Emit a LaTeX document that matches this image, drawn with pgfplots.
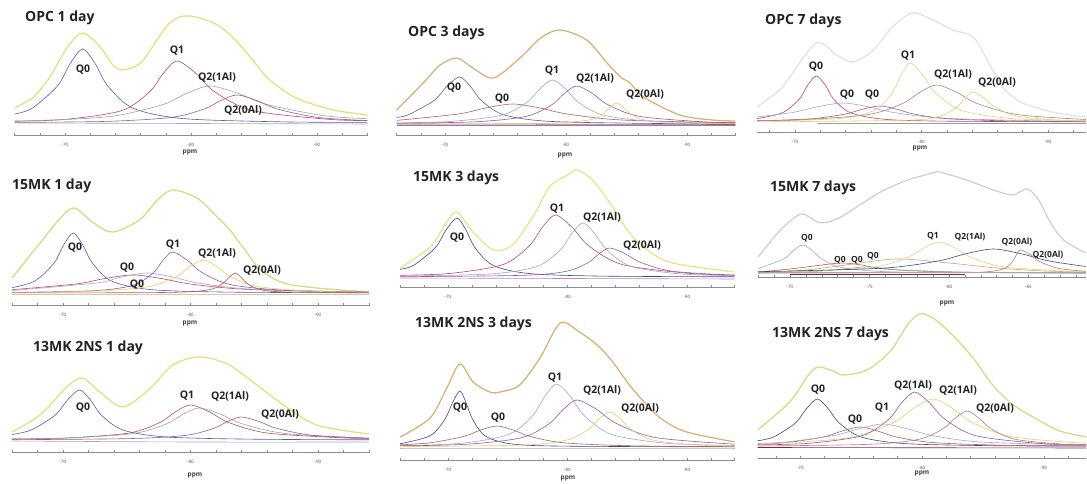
\documentclass[border=0pt]{standalone}
\usepackage{pgfplots}
\pgfplotsset{compat=1.18}
\usepackage{fontspec}
\setmainfont{Open Sans}
\definecolor{envY}{HTML}{E6E07C}
\definecolor{envTan}{HTML}{D8B27A}
\definecolor{envLG}{HTML}{E2E2E8}
\definecolor{envYG}{HTML}{D4DC84}
\definecolor{envY2}{HTML}{E8E48C}
\definecolor{envG}{HTML}{D0D0DA}
\definecolor{cBlue}{HTML}{5A5AA8}
\definecolor{cDBlue}{HTML}{40468A}
\definecolor{cRed}{HTML}{C04860}
\definecolor{cBrown}{HTML}{B06060}
\definecolor{cGreen}{HTML}{8CB094}
\definecolor{cPurp}{HTML}{9A5A9A}
\definecolor{cLB}{HTML}{A0A8CC}
\definecolor{cYel}{HTML}{E0D068}
\definecolor{cYG}{HTML}{D8D878}
\definecolor{cMauve}{HTML}{B08080}
\definecolor{cOr}{HTML}{D8A070}
\definecolor{cGray}{HTML}{A8A8B8}
\definecolor{cDRed}{HTML}{902040}
\definecolor{txt}{HTML}{222222}
\pgfplotsset{
  panel/.style={
    scale only axis, anchor=south west, clip=false,
    axis x line=bottom, axis y line=none,
    x axis line style={-, draw=black!45, line width=0.5pt},
    x dir=reverse, ymin=0, ymax=150, height=150pt,
    xtick={-70,-80,-90}, xticklabels={-70,-80,-90},
    minor xtick={-94,-92,...,-66},
    xtick align=center,
    major tick length=3pt, minor tick length=3pt,
    tick style={black!45, line width=0.4pt},
    xticklabel style={font=\fontsize{4.5}{5}\selectfont, text=black!70, yshift=-3pt},
    every axis plot/.append style={smooth, no markers, line width=0.6pt},
  },
  env/.style={line width=1.3pt},
}
\tikzset{
  ttl/.style={font=\fontsize{14}{16}\selectfont\bfseries, text=txt, anchor=base west, inner sep=0pt},
  lbl/.style={font=\fontsize{10.5}{12}\selectfont\bfseries, text=txt, inner sep=0pt},
  lbls/.style={font=\fontsize{8.5}{10}\selectfont\bfseries, text=txt, inner sep=0pt},
  ppm/.style={font=\fontsize{6.5}{7}\selectfont\bfseries, text=black!75, inner sep=0pt},
}
\begin{document}
\begin{tikzpicture}[x=1pt,y=1pt]
\path[use as bounding box] (0,0) rectangle (1087,484);

% ---------------- A: OPC 1 day
\begin{axis}[panel, at={(14.6pt,349pt)}, width=352.8pt, xmin=-94, xmax=-66]
\addplot[envY, env] coordinates {(-66,27)(-67.5,38)(-68.8,58)(-70.2,88)(-71.4,102)(-72.8,88)(-73.8,70)(-74.6,65)(-76,72)(-77.3,95)(-78.3,112)(-79.4,119)(-80.7,117)(-82.1,110)(-83.3,98)(-84.7,78)(-86,58)(-87.3,45)(-88.7,35)(-91.3,25)(-94,20)};
\addplot[cBlue] coordinates {(-66,21)(-67.4,26.8)(-69.4,49)(-70.4,71.2)(-71.4,86)(-72.4,71.2)(-73.4,49)(-75.4,26.8)(-79.4,16.4)(-87.4,13.1)(-94,12.6)};
\addplot[cRed] coordinates {(-66,13.7)(-70.1,15.7)(-74.5,24.4)(-76.7,43)(-77.8,61.6)(-78.9,74)(-80.4,61.6)(-81.9,43)(-84.9,24.4)(-90.9,15.7)(-94,14.4)};
\addplot[cGreen] coordinates {(-66,14)(-70.4,15.7)(-74.1,19.4)(-77.8,30.5)(-79.65,41.6)(-81.5,49)(-83.75,41.6)(-86,30.5)(-90.5,19.4)(-94,16.3)};
\addplot[cPurp] coordinates {(-66,12.6)(-73.25,13.6)(-78.45,17.6)(-81.05,26)(-82.35,34.4)(-83.65,40)(-85.25,34.4)(-86.85,26)(-90.05,17.6)(-94,14.4)};
\addplot[cGray] coordinates {(-66,12)(-94,11)};
\end{axis}

% ---------------- B: OPC 3 days
\begin{axis}[panel, at={(396.6pt,349pt)}, width=338.8pt, xmin=-94, xmax=-66]
\addplot[envTan, env] coordinates {(-66,25)(-68.2,52)(-69.6,70)(-71.0,77)(-72.3,67)(-74.0,57)(-76.2,77)(-77.9,97)(-79.5,105)(-81.7,95)(-83.4,72)(-84.5,58)(-85.3,52)(-86.4,38)(-89.4,20)(-92.1,15)(-94,14)};
\addplot[cBlue] coordinates {(-66,17.6)(-67.0,20.4)(-69.1,34.5)(-70.15,48.6)(-71.2,58)(-72.1,48.6)(-73.0,34.5)(-74.8,20.4)(-78.4,13.8)(-86,11.7)(-94,11)};
\addplot[cBrown] coordinates {(-66,14.6)(-71.1,21)(-73.35,27)(-75.6,31)(-77.85,27)(-80.1,21)(-84.6,15)(-94,12.2)};
\addplot[cLB] coordinates {(-66,12.1)(-70.5,13.6)(-74.7,19.8)(-76.8,33)(-77.85,46.2)(-78.9,55)(-79.95,46.2)(-81.0,33)(-83.1,19.8)(-87.3,13.6)(-94,11.8)};
\addplot[cPurp] coordinates {(-66,11.8)(-72.5,13.2)(-76.7,18.6)(-78.8,30)(-79.85,41.4)(-80.9,49)(-82.2,41.4)(-83.5,30)(-86.1,18.6)(-91.3,13.2)(-94,12.4)};
\addplot[cYel] coordinates {(-66,11)(-78,11.6)(-82.0,15.2)(-83.1,21.5)(-83.65,27.8)(-84.2,32)(-84.75,27.8)(-85.3,21.5)(-86.4,15.2)(-88.6,12.2)(-94,11.2)};
\addplot[cDBlue] coordinates {(-66,10)(-94,10)};
\addplot[cRed] coordinates {(-66,11)(-94,10.5)};
\end{axis}

% ---------------- C: OPC 7 days
\begin{axis}[panel, at={(757pt,352pt)}, width=328.9pt, xmin=-93, xmax=-67, minor xtick={-92,-90,...,-68}]
\addplot[envLG, env] coordinates {(-67,25)(-68.8,42)(-69.6,55)(-71.7,89)(-73.3,77)(-74.6,70)(-76.2,82)(-77.7,105)(-79.3,119)(-80.9,112)(-82.5,102)(-84.1,95)(-85.2,72)(-86.4,45)(-88.0,29)(-90.7,19)(-93,15)};
\addplot[cRed] coordinates {(-67,13.4)(-69.0,19.2)(-70.35,33)(-71.0,46.8)(-71.7,56)(-72.4,46.8)(-73.05,33)(-74.4,19.2)(-77.1,12.7)(-82,10.8)(-93,10.2)};
\addplot[cLB] coordinates {(-67,15)(-69.8,19.5)(-71.8,25.2)(-73.8,29)(-75.8,25.2)(-77.8,19.5)(-81.8,13.8)(-89.8,11.1)(-93,10.7)};
\addplot[cPurp] coordinates {(-67,11.2)(-71.3,13.2)(-74,18)(-75.35,22.8)(-76.7,26)(-78.05,22.8)(-79.4,18)(-82.1,13.2)(-87.5,10.9)(-93,10.3)};
\addplot[cYG] coordinates {(-67,10.8)(-73.5,13.5)(-76.3,21.8)(-77.7,39.5)(-78.4,57.2)(-79.1,69)(-80.1,57.2)(-81.1,39.5)(-83.1,21.8)(-87.1,13.5)(-93,11.2)};
\addplot[cMauve] coordinates {(-67,11.3)(-70.4,12.2)(-75.8,17.4)(-78.5,28.5)(-79.85,39.6)(-81.2,47)(-82.8,39.6)(-84.4,28.5)(-87.6,17.4)(-93,12.5)};
\addplot[cYel] coordinates {(-67,10.1)(-78.9,11.8)(-81.5,16)(-82.8,25)(-83.45,34)(-84.1,40)(-84.95,34)(-85.8,25)(-87.5,16)(-90.9,11.8)(-93,11.1)};
\addplot[black!60] coordinates {(-71.8,9)(-93,9)};
\end{axis}

% ---------------- D: 15MK 1 day
\begin{axis}[panel, at={(12pt,179pt)}, width=357pt, xmin=-94, xmax=-66]
\addplot[envYG, env] coordinates {(-66,27)(-68.2,62)(-69.8,87)(-70.9,97)(-72.4,82)(-73.9,73)(-76.0,85)(-77.4,105)(-78.6,115)(-80.5,107)(-82.1,88)(-83.1,75)(-84.1,58)(-85.5,35)(-87.3,22)(-89.9,17)(-94,13)};
\addplot[cBlue] coordinates {(-66,17.3)(-67.8,24)(-69.3,42)(-70.05,60)(-70.8,72)(-71.55,60)(-72.3,42)(-73.8,24)(-76.8,15.5)(-82.8,12.9)(-94,12.2)};
\addplot[cRed] coordinates {(-66,15.3)(-71,21)(-73.25,26.4)(-75.5,30)(-77.75,26.4)(-80,21)(-84.5,15.6)(-94,12.9)};
\addplot[cLB] coordinates {(-66,14.5)(-72.6,22)(-74.6,28)(-76.6,32)(-78.6,28)(-80.6,22)(-84.6,16)(-92.6,13.2)(-94,13)};
\addplot[cPurp] coordinates {(-66,12.6)(-72.6,14.4)(-75.6,20.2)(-77.1,32.5)(-77.85,44.8)(-78.6,53)(-79.75,44.8)(-80.9,32.5)(-83.2,20.2)(-87.8,14.4)(-94,12.9)};
\addplot[cYel] coordinates {(-66,12.6)(-72.6,13.9)(-76.8,18.6)(-78.9,28.5)(-79.95,38.4)(-81.0,45)(-82.05,38.4)(-83.1,28.5)(-85.2,18.6)(-89.4,13.9)(-94,12.8)};
\addplot[cBrown] coordinates {(-66,12.1)(-76,12.3)(-79.9,13.2)(-81.7,16)(-82.6,22)(-83.05,28)(-83.5,32)(-83.95,28)(-84.4,22)(-85.3,16)(-87.1,13.2)(-94,12.1)};
\addplot[cOr] coordinates {(-66,11)(-94,11)};
\end{axis}

% ---------------- E: 15MK 3 days
\begin{axis}[panel, at={(400.2pt,197pt)}, width=334.4pt, xmin=-94, xmax=-66]
\addplot[envY2, env] coordinates {(-66,19)(-68.5,40)(-69.9,65)(-70.75,75)(-72.1,55)(-73.8,37)(-75.4,42)(-77.1,70)(-78.5,100)(-80.0,112)(-80.8,117)(-82.1,107)(-83.8,80)(-85.2,54)(-86.7,37)(-88.8,24)(-94,15)};
\addplot[cDBlue] coordinates {(-66,17.7)(-67.15,21.8)(-68.95,39.5)(-69.85,57.2)(-70.75,69)(-71.5,57.2)(-72.25,39.5)(-73.75,21.8)(-76.75,13.5)(-82.75,10.9)(-94,10.2)};
\addplot[cRed] coordinates {(-66,11.7)(-70.2,13.6)(-74.6,22.4)(-76.8,41)(-77.9,59.6)(-79.0,72)(-80.4,59.6)(-81.8,41)(-84.6,22.4)(-90.2,13.6)(-94,12.1)};
\addplot[cLB] coordinates {(-66,10.8)(-73.7,13.2)(-77.5,20.8)(-79.4,37)(-80.35,53.2)(-81.3,64)(-82.3,53.2)(-83.3,37)(-85.3,20.8)(-89.3,13.2)(-94,11.3)};
\addplot[cPurp] coordinates {(-66,10.3)(-76.35,11.7)(-79.95,15.8)(-81.75,24.5)(-82.65,33.2)(-83.55,39)(-84.85,33.2)(-86.15,24.5)(-88.75,15.8)(-94,11.7)};
\addplot[cPurp!70] coordinates {(-66,9)(-94,8)};
\end{axis}

% ---------------- F: 15MK 7 days
\begin{axis}[panel, at={(758.2pt,207pt)}, width=327.5pt, xmin=-88.6, xmax=-68,
  xtick={-70,-75,-80,-85}, xticklabels={-70,-75,-80,-85}, minor xtick={-88,-87,...,-68}]
\addplot[envG, env] coordinates {(-68,20)(-69.4,47)(-70.7,63)(-71.7,55)(-72.4,55)(-73.2,60)(-74.2,70)(-75.7,85)(-77.4,97)(-79.0,104)(-79.4,105)(-81.1,97)(-82.8,87)(-84.0,82)(-84.9,88)(-85.6,78)(-86.4,54)(-87.2,37)(-88.6,24)};
\addplot[cGray] coordinates {(-68,8.5)(-69.6,18)(-70.2,26.4)(-70.8,32)(-71.4,26.4)(-72.0,18)(-73.2,9.6)(-75.6,5.6)(-80,4.3)(-88.6,4)};
\addplot[cBrown] coordinates {(-68,5)(-70,8)(-72,12)(-73.3,14)(-74.5,12)(-76,8)(-80,5)(-88.6,4)};
\addplot[cGreen] coordinates {(-68,4)(-72,6)(-74.8,10)(-77,7)(-82,4.5)(-88.6,4)};
\addplot[cOr] coordinates {(-68,4)(-71,7)(-73.5,12)(-76.7,18)(-80,14)(-83,9)(-86,6)(-88.6,5)};
\addplot[cYG] coordinates {(-68,5)(-71.4,5.8)(-75.4,10.2)(-77.4,19.5)(-78.4,28.8)(-79.4,35)(-80.4,28.8)(-81.4,19.5)(-83.4,10.2)(-87.4,5.8)(-88.6,5.3)};
\addplot[cDBlue] coordinates {(-68,5.3)(-75.8,8.8)(-79.3,16)(-81.05,23.2)(-82.8,28)(-84.55,23.2)(-86.3,16)(-88.6,10.5)};
\addplot[cMauve] coordinates {(-68,4)(-80,4.2)(-82.5,5.4)(-83.5,8.6)(-84.0,15.5)(-84.25,22.6)(-84.5,27)(-85.1,22.6)(-85.7,15.5)(-86.9,8.6)(-88.6,5.7)};
\addplot[cDRed, line width=1.2pt] coordinates {(-70,2.5)(-81,2.5)};
\addplot[black!35] coordinates {(-68,4.5)(-88.6,4.5)};
\end{axis}

% ---------------- G: 13MK 2NS 1 day
\begin{axis}[panel, at={(12pt,32pt)}, width=357pt, xmin=-94, xmax=-66]
\addplot[envY, env] coordinates {(-66,20)(-68.2,37)(-70.3,65)(-71.5,74)(-72.9,60)(-74.7,45)(-76.8,63)(-78.6,87)(-80.7,95)(-82.9,88)(-84.9,70)(-87.3,47)(-89.9,27)(-94,18)};
\addplot[cBlue] coordinates {(-66,17.5)(-67.5,22)(-69.4,37)(-70.35,52)(-71.3,62)(-72.15,52)(-73.0,37)(-74.7,22)(-78.1,15)(-84.9,12.8)(-94,12.2)};
\addplot[cRed] coordinates {(-66,13)(-70.4,14.1)(-75.2,19)(-77.6,29.5)(-78.8,40)(-80.0,47)(-81.5,40)(-83.0,29.5)(-86.0,19)(-92,14.1)(-94,13.6)};
\addplot[cGreen] coordinates {(-66,13)(-70.3,13.9)(-75.5,18.4)(-78.1,28)(-79.4,37.6)(-80.7,44)(-82.4,37.6)(-84.1,28)(-87.5,18.4)(-94,14)};
\addplot[cPurp] coordinates {(-66,12.3)(-75.2,13.4)(-79.6,16.6)(-81.8,23.5)(-82.9,30.4)(-84.0,35)(-85.4,30.4)(-86.8,23.5)(-89.6,16.6)(-94,13.7)};
\addplot[cGray] coordinates {(-66,11)(-80,10)(-94,10)};
\end{axis}

% ---------------- H: 13MK 2NS 3 days
\begin{axis}[panel, at={(400.2pt,24pt)}, width=334.4pt, xmin=-94, xmax=-66]
\addplot[envTan, env] coordinates {(-66,23)(-68.5,42)(-69.9,72)(-71.0,96)(-72.1,78)(-73.5,68)(-74.35,68)(-76.0,75)(-77.7,102)(-79.4,137)(-81.0,128)(-82.5,115)(-83.8,98)(-85.2,75)(-86.65,55)(-88.0,40)(-90.0,28)(-94,18)};
\addplot[cDBlue] coordinates {(-66,16.3)(-68.5,24.2)(-69.75,41)(-70.4,57.8)(-71.0,69)(-71.5,57.8)(-72.05,41)(-73.1,24.2)(-75.2,16.3)(-79.4,13.9)(-94,13.1)};
\addplot[cBrown] coordinates {(-66,15.2)(-68.5,17.2)(-71.3,23.5)(-72.7,29.8)(-74.1,34)(-75.5,29.8)(-76.9,23.5)(-79.7,17.2)(-85.3,14.2)(-94,13.4)};
\addplot[cLB] coordinates {(-66,14.4)(-71.1,16.7)(-75.1,25.6)(-77.1,44.5)(-78.1,63.4)(-79.1,76)(-80.25,63.4)(-81.4,44.5)(-83.7,25.6)(-88.3,16.7)(-94,14.5)};
\addplot[cPurp] coordinates {(-66,14.1)(-71.6,15.8)(-76.2,22.4)(-78.5,36.5)(-79.65,50.6)(-80.8,60)(-82.45,50.6)(-84.1,36.5)(-87.4,22.4)(-94,15.8)};
\addplot[cYel] coordinates {(-66,13.4)(-76.35,15)(-79.95,20)(-81.75,30.5)(-82.65,41)(-83.55,48)(-84.45,41)(-85.35,30.5)(-87.15,20)(-90.75,15)(-94,14)};
\addplot[cGray] coordinates {(-66,12)(-94,12)};
\end{axis}

% ---------------- I: 13MK 2NS 7 days
\begin{axis}[panel, at={(757.7pt,26pt)}, width=328.6pt, xmin=-93.5, xmax=-66.5, minor xtick={-92,-90,...,-68}]
\addplot[envYG, env] coordinates {(-66.5,28)(-69.2,57)(-70.6,82)(-71.45,91)(-72.7,87)(-73.5,83)(-75.5,88)(-77.4,107)(-78.8,133)(-79.8,144)(-80.9,140)(-82.5,123)(-84.2,100)(-85.8,73)(-87.5,53)(-89.7,37)(-91.3,27)(-93.5,21)};
\addplot[cDBlue] coordinates {(-66.5,17.3)(-67.8,21)(-69.6,35)(-70.5,49.2)(-71.4,59)(-72.3,49.2)(-73.2,35)(-75.0,21)(-78.6,14.4)(-85.8,12.3)(-93.5,11.9)};
\addplot[cBrown] coordinates {(-66.5,13.7)(-68.9,15.4)(-71.9,21)(-73.4,26.8)(-74.9,31)(-76.4,26.8)(-77.9,21)(-80.9,15.4)(-86.9,12.7)(-93.5,12.2)};
\addplot[cLB] coordinates {(-66.5,14.5)(-68.8,16)(-72.8,22.6)(-74.8,29.2)(-76.8,34)(-78.8,29.2)(-80.8,22.6)(-84.8,16)(-93.5,12.8)};
\addplot[cYel] coordinates {(-66.5,14)(-70.4,16.3)(-74.3,21)(-77.6,35)(-79.25,49.2)(-80.9,59)(-82.55,49.2)(-84.2,35)(-87.5,21)(-93.5,14.6)};
\addplot[cPurp] coordinates {(-66.5,13.1)(-70.8,14.8)(-75.1,22.4)(-77.25,38.6)(-78.3,54.8)(-79.4,66)(-80.65,54.8)(-81.9,38.6)(-84.4,22.4)(-89.4,14.8)(-93.5,13.2)};
\addplot[cMauve] coordinates {(-66.5,12)(-75.7,13.7)(-79.7,18.6)(-81.7,29.1)(-82.7,39.6)(-83.7,47)(-84.7,39.6)(-85.7,29.1)(-87.7,18.6)(-91.7,13.7)(-93.5,12.9)};
\addplot[cDRed] coordinates {(-66.5,10.5)(-93.5,10)};
\end{axis}

% ---------------- titles
\node[ttl] at (25,462) {OPC 1 day};
\node[ttl] at (408,447) {OPC 3 days};
\node[ttl] at (765,459) {OPC 7 days};
\node[ttl] at (12,294) {15MK 1 day};
\node[ttl] at (413,302) {15MK 3 days};
\node[ttl] at (770,292) {15MK 7 days};
\node[ttl] at (33,132) {13MK 2NS 1 day};
\node[ttl] at (415,156) {13MK 2NS 3 days};
\node[ttl] at (772,146) {13MK 2NS 7 days};

% ---------------- ppm labels
\node[ppm] at (190,332) {ppm};
\node[ppm] at (565,329) {ppm};
\node[ppm] at (920,335.5) {ppm};
\node[ppm] at (190,161) {ppm};
\node[ppm] at (947,181) {ppm};
\node[ppm] at (195,9) {ppm};
\node[ppm] at (568,6) {ppm};
\node[ppm] at (922,11) {ppm};

% ---------------- peak labels
\node[lbl] at (83,414) {Q0};
\node[lbl] at (177,433) {Q1};
\node[lbl] at (217,407) {Q2(1Al)};
\node[lbl] at (243,374) {Q2(0Al)};

\node[lbl] at (454,396) {Q0};
\node[lbl] at (502,385) {Q0};
\node[lbl] at (552,413) {Q1};
\node[lbl] at (595,406) {Q2(1Al)};
\node[lbl] at (645,390) {Q2(0Al)};

\node[lbl] at (816,417) {Q0};
\node[lbl] at (847,389) {Q0};
\node[lbl] at (872,389) {Q0};
\node[lbl] at (908,428) {Q1};
\node[lbl] at (953,410) {Q2(1Al)};
\node[lbl] at (997,402) {Q2(0Al)};

\node[lbl] at (75,236) {Q0};
\node[lbl] at (127,216) {Q0};
\node[lbl] at (137,199) {Q0};
\node[lbl] at (173,239) {Q1};
\node[lbl] at (217,231) {Q2(1Al)};
\node[lbl] at (262,214) {Q2(0Al)};

\node[lbl] at (457,246) {Q0};
\node[lbl] at (557,275) {Q1};
\node[lbl] at (602,267) {Q2(1Al)};
\node[lbl] at (642,239) {Q2(0Al)};

\node[lbls] at (807,246) {Q0};
\node[lbls] at (840,224) {Q0};
\node[lbls] at (857,224) {Q0};
\node[lbls] at (873,228) {Q0};
\node[lbls] at (933,248) {Q1};
\node[lbls] at (970,247) {Q2(1Al)};
\node[lbls] at (1017,242) {Q2(0Al)};
\node[lbls] at (1048,229) {Q2(0Al)};

\node[lbl] at (83,76) {Q0};
\node[lbl] at (187,88) {Q1};
\node[lbl] at (230,88) {Q2(1Al)};
\node[lbl] at (280,70) {Q2(0Al)};

\node[lbl] at (460,76) {Q0};
\node[lbl] at (498,66) {Q0};
\node[lbl] at (555,106) {Q1};
\node[lbl] at (602,94) {Q2(1Al)};
\node[lbl] at (640,76) {Q2(0Al)};

\node[lbl] at (818,94) {Q0};
\node[lbl] at (855,64) {Q0};
\node[lbl] at (882,76) {Q1};
\node[lbl] at (913,99) {Q2(1Al)};
\node[lbl] at (958,94) {Q2(1Al)};
\node[lbl] at (995,76) {Q2(0Al)};
\end{tikzpicture}
\end{document}
